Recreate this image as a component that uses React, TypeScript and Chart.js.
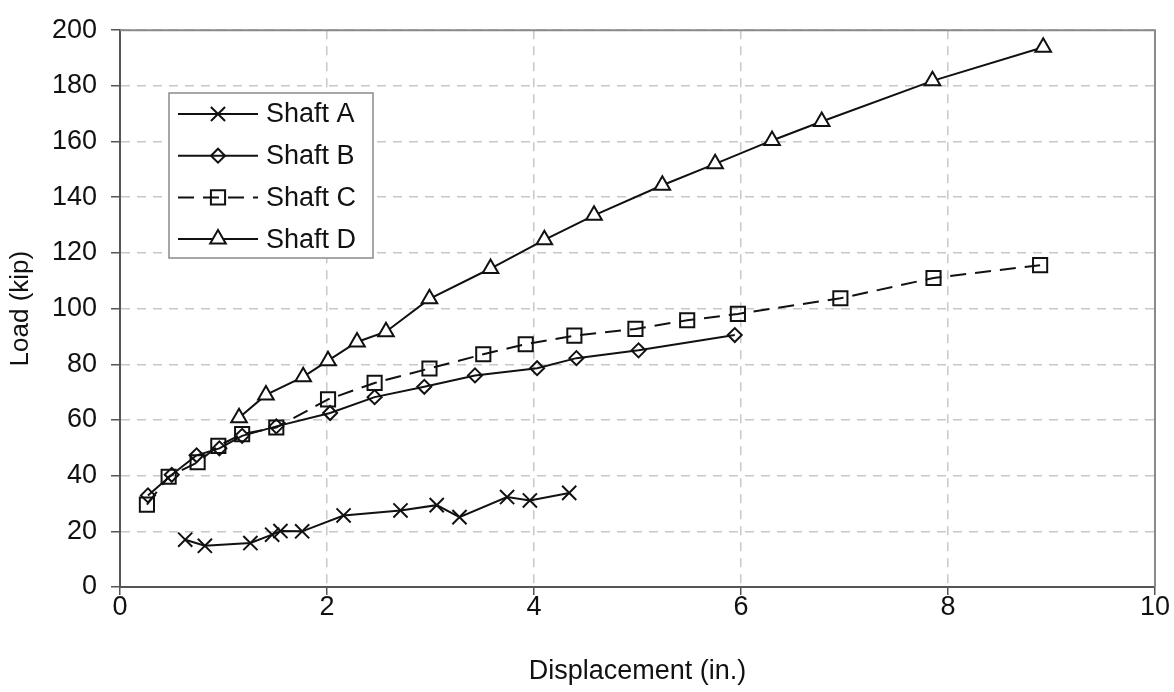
import React, { useEffect, useRef } from "react";
import { Chart, registerables } from "chart.js";
import { drawPoint } from "chart.js/helpers";

Chart.register(...registerables);

// Load–displacement readings for the four test shafts
const shaftA_disp = [0.63, 0.82, 1.26, 1.47, 1.55, 1.76, 2.16, 2.71, 3.06, 3.28, 3.74, 3.96, 4.34];
const shaftA_load = [17.0, 14.8, 15.8, 18.8, 20.1, 20.0, 25.7, 27.5, 29.4, 25.1, 32.3, 31.1, 33.8];

const shaftB_disp = [0.27, 0.5, 0.74, 0.96, 1.18, 1.51, 2.03, 2.46, 2.94, 3.43, 4.03, 4.41, 5.01, 5.94];
const shaftB_load = [32.9, 40.3, 47.3, 49.8, 54.3, 57.7, 62.5, 68.2, 71.9, 76.0, 78.6, 82.2, 85.0, 90.5];

const shaftC_disp = [0.26, 0.47, 0.75, 0.95, 1.18, 1.51, 2.01, 2.46, 2.99, 3.51, 3.92, 4.39, 4.98, 5.48, 5.97, 6.96, 7.86, 8.89];
const shaftC_load = [29.6, 39.6, 44.8, 50.7, 54.9, 57.3, 67.4, 73.3, 78.5, 83.6, 87.2, 90.3, 92.7, 95.8, 98.1, 103.7, 111.0, 115.6];

const shaftD_disp = [1.15, 1.41, 1.77, 2.01, 2.29, 2.57, 2.99, 3.58, 4.1, 4.58, 5.24, 5.75, 6.3, 6.78, 7.85, 8.92];
const shaftD_load = [60.8, 69.0, 75.5, 81.3, 88.0, 91.7, 103.5, 114.4, 124.7, 133.5, 144.3, 152.0, 160.4, 167.2, 181.8, 193.9];

const seriesNames = ["Shaft A", "Shaft B", "Shaft C", "Shaft D"];

const xTickLabels = ["0", "2", "4", "6", "8", "10"];
const yTickLabels = ["0", "20", "40", "60", "80", "100", "120", "140", "160", "180", "200"];

const FONT = "'Liberation Sans', Arial, sans-serif";
const INK = "#111111";
const GRID = "#c8c8c8";

const toPoints = (xs: number[], ys: number[]) => xs.map((x, i) => ({ x, y: ys[i] }));

// Grey frame on the top and right of the plot area
const framePlugin = {
  id: "plotFrame",
  afterDraw(chart: any) {
    const { ctx, chartArea: a } = chart;
    ctx.save();
    ctx.strokeStyle = "#8a8a8a";
    ctx.lineWidth = 2;
    ctx.beginPath();
    ctx.moveTo(a.left, a.top);
    ctx.lineTo(a.right, a.top);
    ctx.lineTo(a.right, a.bottom);
    ctx.stroke();
    ctx.restore();
  },
};

// Boxed legend inside the plot, drawn from each dataset's own style
const boxLegendPlugin = {
  id: "boxLegend",
  afterDraw(chart: any) {
    const { ctx } = chart;
    const box = { x: 169, y: 93, w: 204, h: 165 };
    ctx.save();
    ctx.fillStyle = "#ffffff";
    ctx.fillRect(box.x, box.y, box.w, box.h);
    ctx.strokeStyle = "#8a8a8a";
    ctx.lineWidth = 1.5;
    ctx.strokeRect(box.x, box.y, box.w, box.h);
    chart.data.datasets.forEach((ds: any, i: number) => {
      const cy = 114 + i * 41.7;
      ctx.strokeStyle = ds.borderColor;
      ctx.lineWidth = ds.borderWidth;
      ctx.setLineDash(ds.borderDash || []);
      ctx.beginPath();
      ctx.moveTo(178, cy);
      ctx.lineTo(258, cy);
      ctx.stroke();
      ctx.setLineDash([]);
      ctx.fillStyle = ds.pointBackgroundColor;
      ctx.strokeStyle = ds.pointBorderColor;
      ctx.lineWidth = ds.pointBorderWidth;
      drawPoint(ctx, { pointStyle: ds.pointStyle, rotation: 0, radius: ds.pointRadius, borderWidth: ds.pointBorderWidth }, 218, cy);
      ctx.fillStyle = INK;
      ctx.font = `27px ${FONT}`;
      ctx.textBaseline = "middle";
      ctx.textAlign = "left";
      ctx.fillText(ds.label, 266, cy + 1);
    });
    ctx.restore();
  },
};

export default function App() {
  const canvasRef = useRef<HTMLCanvasElement | null>(null);

  useEffect(() => {
    if (!canvasRef.current) return;
    const line = {
      borderColor: INK,
      borderWidth: 2,
      pointBorderColor: INK,
      pointBorderWidth: 2,
      showLine: true,
      tension: 0,
    };
    const chart = new Chart(canvasRef.current, {
      type: "scatter",
      data: {
        datasets: [
          {
            ...line,
            label: seriesNames[0],
            data: toPoints(shaftA_disp, shaftA_load),
            pointStyle: "crossRot",
            pointRadius: 10,
            pointBackgroundColor: "transparent",
          },
          {
            ...line,
            label: seriesNames[1],
            data: toPoints(shaftB_disp, shaftB_load),
            pointStyle: "rectRot",
            pointRadius: 7,
            pointBackgroundColor: "transparent",
          },
          {
            ...line,
            label: seriesNames[2],
            data: toPoints(shaftC_disp, shaftC_load),
            borderDash: [16, 9],
            pointStyle: "rect",
            pointRadius: 10,
            pointBackgroundColor: "transparent",
          },
          {
            ...line,
            label: seriesNames[3],
            data: toPoints(shaftD_disp, shaftD_load),
            pointStyle: "triangle",
            pointRadius: 9,
            pointBackgroundColor: "#ffffff",
          },
        ],
      } as any,
      options: {
        animation: false,
        responsive: true,
        maintainAspectRatio: false,
        layout: { padding: { top: 26, right: 19, left: 0, bottom: 0 } },
        plugins: {
          legend: { display: false },
          tooltip: { enabled: false },
        },
        scales: {
          x: {
            type: "linear",
            min: 0,
            max: 10,
            afterFit: (s: any) => {
              s.height = 105;
            },
            ticks: {
              stepSize: 2,
              color: INK,
              font: { family: FONT, size: 27 },
              padding: -4,
              maxRotation: 0,
              callback: (v: any) => xTickLabels[Math.round(Number(v) / 2)] ?? "",
            },
            grid: {
              color: GRID,
              lineWidth: 1.5,
              tickLength: 8,
              tickColor: "#555555",
              tickBorderDash: [],
              tickWidth: 1.5,
            },
            border: { display: true, color: "#555555", width: 2, dash: [9, 7] },
            title: {
              display: true,
              text: "Displacement (in.)",
              color: INK,
              font: { family: FONT, size: 27 },
              padding: { top: 0, bottom: 4 },
            },
          },
          y: {
            type: "linear",
            min: 0,
            max: 200,
            afterFit: (s: any) => {
              s.width = 120;
            },
            ticks: {
              stepSize: 20,
              color: INK,
              font: { family: FONT, size: 27 },
              padding: 14,
              callback: (v: any) => yTickLabels[Math.round(Number(v) / 20)] ?? "",
            },
            grid: {
              color: GRID,
              lineWidth: 1.5,
              tickLength: 9,
              tickColor: "#555555",
              tickBorderDash: [],
              tickWidth: 1.5,
            },
            border: { display: true, color: "#555555", width: 2, dash: [9, 7] },
            title: {
              display: true,
              text: "Load (kip)",
              color: INK,
              font: { family: FONT, size: 26 },
              padding: { top: 5, bottom: 0 },
            },
          },
        },
      } as any,
      plugins: [framePlugin, boxLegendPlugin],
    });
    return () => chart.destroy();
  }, []);

  return (
    <div style={{ position: "fixed", left: 0, top: 0, width: 1174, height: 692, background: "#ffffff" }}>
      <canvas ref={canvasRef} />
    </div>
  );
}
